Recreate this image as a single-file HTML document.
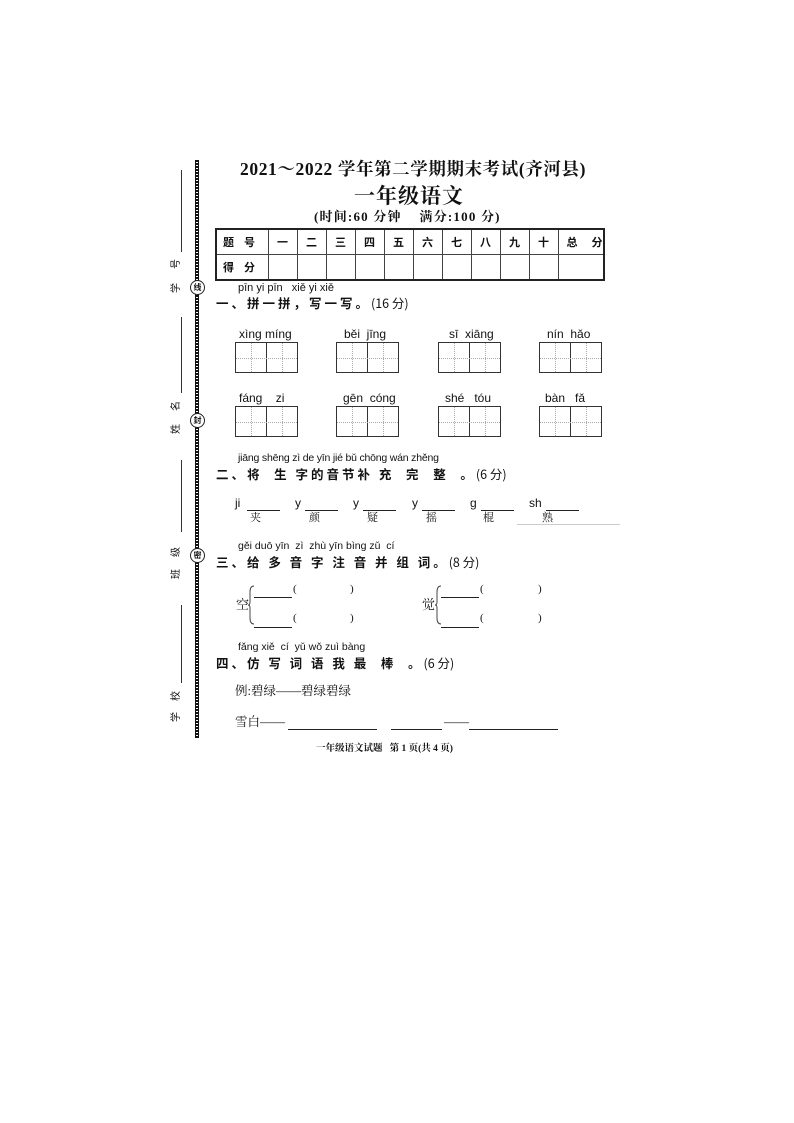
<!DOCTYPE html>
<html><head><meta charset="utf-8"><style>
body{margin:0;background:#fff;}
.pg{position:relative;width:794px;height:1123px;overflow:hidden;font-family:"Liberation Serif","Noto Serif CJK SC",serif;color:#111;}
.a{position:absolute;white-space:nowrap;line-height:1;}
.py{font-family:"Liberation Sans","Noto Sans CJK SC",sans-serif;font-size:11px;}
.h{font-family:"Noto Sans CJK SC",sans-serif;font-weight:bold;font-size:12.5px;letter-spacing:3px;}
.box{position:absolute;width:63px;height:31px;border:1.3px solid #333;box-sizing:border-box;}
.box:before{content:"";position:absolute;left:30px;top:0;bottom:0;border-left:1.3px solid #333;}
.box:after{content:"";position:absolute;left:0;right:0;top:15px;border-top:1px dotted #aaa;}
.box i{position:absolute;top:0;bottom:0;border-left:1px dotted #aaa;}
.ul{position:absolute;border-top:1px solid #222;height:0;}
.vl{position:absolute;left:181px;width:0;border-left:1px solid #333;}
.rl{position:absolute;left:170px;font-size:10px;line-height:1;font-family:"Noto Sans CJK SC",sans-serif;transform:rotate(-90deg);}
.cir{position:absolute;left:190px;width:13px;height:13px;border:1px solid #222;border-radius:50%;background:#fff;font-size:8px;text-align:center;line-height:13px;font-family:"Noto Sans CJK SC",sans-serif;font-weight:bold;}
table{border-collapse:collapse;position:absolute;left:215px;top:228px;width:388px;height:51px;border:2px solid #222;table-layout:fixed;}
td{border:1px solid #444;font-family:"Noto Sans CJK SC",sans-serif;font-weight:bold;font-size:11px;line-height:1;text-align:center;padding:0;height:24px;white-space:nowrap;overflow:hidden;}
</style></head><body><div class="pg">
<div style="position:absolute;left:195px;top:160px;width:4px;height:578px;background:repeating-linear-gradient(#111 0 2px,#fff 2px 3px);border-left:1px solid #111;border-right:1px solid #111;box-sizing:border-box;"></div>
<div class="vl" style="top:170px;height:82px"></div>
<div class="vl" style="top:317px;height:76px"></div>
<div class="vl" style="top:460px;height:72px"></div>
<div class="vl" style="top:605px;height:78px"></div>
<div class="rl" style="top:259px">号</div><div class="rl" style="top:283px">学</div>
<div class="rl" style="top:401px">名</div><div class="rl" style="top:424px">姓</div>
<div class="rl" style="top:547px">级</div><div class="rl" style="top:569px">班</div>
<div class="rl" style="top:691px">校</div><div class="rl" style="top:712px">学</div>
<div class="cir" style="top:280px">线</div>
<div class="cir" style="top:413px">封</div>
<div class="cir" style="top:548px">密</div>
<div class="a" style="left:240px;top:161px;font-size:17.5px;font-weight:bold;letter-spacing:0.6px;font-family:'Liberation Serif','Noto Serif CJK SC',serif;">2021～2022 学年第二学期期末考试(齐河县)</div>
<div class="a" style="left:354px;top:185px;font-size:21px;font-weight:bold;font-family:'Noto Serif CJK SC',serif;letter-spacing:1px;">一年级语文</div>
<div class="a" style="left:314px;top:210px;font-size:13px;font-weight:bold;letter-spacing:1.2px;font-family:'Liberation Serif','Noto Serif CJK SC',serif;">(时间:60 分钟 &nbsp;&nbsp; 满分:100 分)</div>
<table><colgroup><col style="width:52px"><col span="10" style="width:29px"><col style="width:46px"></colgroup>
<tr><td style="text-align:left;padding-left:6px;letter-spacing:10px">题号</td><td>一</td><td>二</td><td>三</td><td>四</td><td>五</td><td>六</td><td>七</td><td>八</td><td>九</td><td>十</td><td style="letter-spacing:14px;padding-left:8px">总分</td></tr>
<tr><td style="text-align:left;padding-left:6px;letter-spacing:10px">得分</td><td></td><td></td><td></td><td></td><td></td><td></td><td></td><td></td><td></td><td></td><td></td></tr></table>
<div class="a py" style="left:238px;top:283px">pīn yi pīn &nbsp; xiě yi xiě</div>
<div class="a h" style="left:216px;top:297px">一、拼一拼，写一写。<span style="font-weight:normal;letter-spacing:0">(16 分)</span></div>
<div class="a py" style="left:239px;top:328px;font-size:12px">xìng míng</div>
<div class="a py" style="left:344px;top:328px;font-size:12px">běi &nbsp;jīng</div>
<div class="a py" style="left:449px;top:328px;font-size:12px">sī &nbsp;xiāng</div>
<div class="a py" style="left:547px;top:328px;font-size:12px">nín &nbsp;hǎo</div>
<div class="box" style="left:235px;top:342px"><i style="left:15px"></i><i style="left:46px"></i></div>
<div class="box" style="left:336px;top:342px"><i style="left:15px"></i><i style="left:46px"></i></div>
<div class="box" style="left:438px;top:342px"><i style="left:15px"></i><i style="left:46px"></i></div>
<div class="box" style="left:539px;top:342px"><i style="left:15px"></i><i style="left:46px"></i></div>
<div class="a py" style="left:239px;top:392px;font-size:12px">fáng &nbsp;&nbsp; zi</div>
<div class="a py" style="left:343px;top:392px;font-size:12px">gēn &nbsp;cóng</div>
<div class="a py" style="left:445px;top:392px;font-size:12px">shé &nbsp; tóu</div>
<div class="a py" style="left:545px;top:392px;font-size:12px">bàn &nbsp; fǎ</div>
<div class="box" style="left:235px;top:406px"><i style="left:15px"></i><i style="left:46px"></i></div>
<div class="box" style="left:336px;top:406px"><i style="left:15px"></i><i style="left:46px"></i></div>
<div class="box" style="left:438px;top:406px"><i style="left:15px"></i><i style="left:46px"></i></div>
<div class="box" style="left:539px;top:406px"><i style="left:15px"></i><i style="left:46px"></i></div>
<div class="a py" style="left:238px;top:453px;font-size:10.5px;letter-spacing:-0.2px">jiāng shēng zì de yīn jié bǔ chōng wán zhěng</div>
<div class="a h" style="left:216px;top:468px">二、将 &nbsp;生 字的音节补 充 &nbsp;完 &nbsp;整 &nbsp;。<span style="font-weight:normal;letter-spacing:0">(6 分)</span></div>
<div class="a py" style="left:235px;top:497px;font-size:12px">ji</div>
<div class="a py" style="left:295px;top:497px;font-size:12px">y</div>
<div class="a py" style="left:353px;top:497px;font-size:12px">y</div>
<div class="a py" style="left:412px;top:497px;font-size:12px">y</div>
<div class="a py" style="left:470px;top:497px;font-size:12px">g</div>
<div class="a py" style="left:529px;top:497px;font-size:12px">sh</div>
<div class="ul" style="left:247px;top:510px;width:33px"></div>
<div class="ul" style="left:305px;top:510px;width:33px"></div>
<div class="ul" style="left:363px;top:510px;width:33px"></div>
<div class="ul" style="left:422px;top:510px;width:33px"></div>
<div class="ul" style="left:481px;top:510px;width:33px"></div>
<div class="ul" style="left:546px;top:510px;width:33px"></div>
<div class="ul" style="left:517px;top:524px;width:103px;border-color:#ccc"></div>
<div class="a" style="left:250px;top:513px;font-size:11px">夹</div>
<div class="a" style="left:309px;top:513px;font-size:11px">颜</div>
<div class="a" style="left:367px;top:513px;font-size:11px">疑</div>
<div class="a" style="left:426px;top:513px;font-size:11px">摇</div>
<div class="a" style="left:483px;top:513px;font-size:11px">棍</div>
<div class="a" style="left:542px;top:513px;font-size:11px">熟</div>
<div class="a py" style="left:238px;top:541px;font-size:10.5px">gěi duō yīn &nbsp;zì &nbsp;zhù yīn bìng zǔ &nbsp;cí</div>
<div class="a h" style="left:216px;top:556px">三、给 多 音 字 注 音 并 组 词。<span style="font-weight:normal;letter-spacing:0">(8 分)</span></div>
<div class="a" style="left:236px;top:598px;font-size:13px">空</div>
<div class="a" style="left:422px;top:598px;font-size:13px">觉</div>
<svg style="position:absolute;left:0;top:0" width="794" height="1123">
<path d="M254 586 Q250 586 250 592 L250 602 Q250 605 248 605 Q250 605 250 608 L250 618 Q250 624 254 624" fill="none" stroke="#444" stroke-width="1"/>
<path d="M441 586 Q437 586 437 592 L437 602 Q437 605 435 605 Q437 605 437 608 L437 618 Q437 624 441 624" fill="none" stroke="#444" stroke-width="1"/>
</svg>
<div class="ul" style="left:254px;top:597px;width:38px"></div>
<div class="ul" style="left:254px;top:627px;width:38px"></div>
<div class="ul" style="left:441px;top:597px;width:38px"></div>
<div class="ul" style="left:441px;top:627px;width:38px"></div>
<div class="a" style="left:293px;top:584px;font-size:11px">(</div><div class="a" style="left:350px;top:584px;font-size:11px">)</div>
<div class="a" style="left:293px;top:613px;font-size:11px">(</div><div class="a" style="left:350px;top:613px;font-size:11px">)</div>
<div class="a" style="left:480px;top:584px;font-size:11px">(</div><div class="a" style="left:538px;top:584px;font-size:11px">)</div>
<div class="a" style="left:480px;top:613px;font-size:11px">(</div><div class="a" style="left:538px;top:613px;font-size:11px">)</div>
<div class="a py" style="left:238px;top:642px;font-size:10.5px">fǎng xiě &nbsp;cí &nbsp;yǔ wǒ zuì bàng</div>
<div class="a h" style="left:216px;top:657px">四、仿 写 词 语 我 最 &nbsp;棒 &nbsp;。<span style="font-weight:normal;letter-spacing:0">(6 分)</span></div>
<div class="a" style="left:235px;top:685px;font-size:12.5px">例:碧绿——碧绿碧绿</div>
<div class="a" style="left:235px;top:716px;font-size:12.5px">雪白——</div>
<div class="ul" style="left:288px;top:729px;width:89px"></div>
<div class="ul" style="left:391px;top:729px;width:51px"></div>
<div class="a" style="left:444px;top:716px;font-size:12.5px">——</div>
<div class="ul" style="left:469px;top:729px;width:89px"></div>
<div class="a" style="left:316px;top:745px;font-size:9.5px;font-weight:bold">一年级语文试题 &nbsp; 第 1 页(共 4 页)</div>
</div></body></html>
